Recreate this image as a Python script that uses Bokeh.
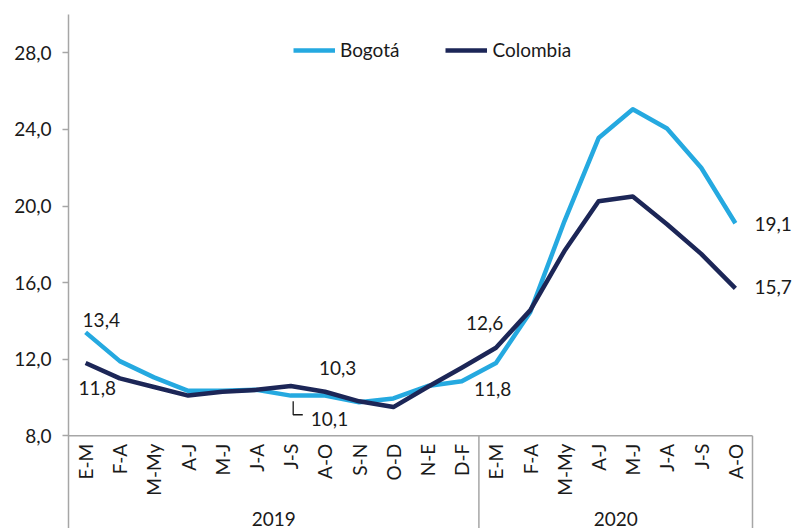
import math
from bokeh.plotting import figure
from bokeh.models import FixedTicker, Range1d, ColumnDataSource
from bokeh.core.properties import value
from bokeh.embed import file_html
from bokeh.resources import INLINE

# ---------------- data ----------------
years = ["2019", "2020"]
periods_2019 = ["E-M", "F-A", "M-My", "A-J", "M-J", "J-A", "J-S", "A-O", "S-N", "O-D", "N-E", "D-F"]
periods_2020 = ["E-M", "F-A", "M-My", "A-J", "M-J", "J-A", "J-S", "A-O"]
bogota = [13.4, 11.9, 11.05, 10.35, 10.35, 10.4, 10.1, 10.1, 9.75, 9.95, 10.6, 10.85,
          11.8, 14.45, 19.2, 23.55, 25.05, 24.05, 22.0, 19.1]
colombia = [11.8, 11.0, 10.55, 10.1, 10.3, 10.4, 10.6, 10.3, 9.8, 9.5, 10.55, 11.55,
            12.6, 14.55, 17.65, 20.25, 20.5, 19.05, 17.5, 15.7]
y_ticks = [8, 12, 16, 20, 24, 28]
y_tick_labels = ["8,0", "12,0", "16,0", "20,0", "24,0", "28,0"]

# ---------------- styles ----------------
FONT = "Lato"
FS = "19px"
C_BOG = "#25A9E0"
C_COL = "#1C2657"
C_AX = "#A6A6A6"
C_TXT = "#1a1a1a"

periods = periods_2019 + periods_2020
n = len(periods)
xs = [i + 0.5 for i in range(n)]
y_bottom = 3.16
y_top = 30.0

p = figure(width=793, height=528, output_backend="svg", toolbar_location=None,
           x_range=Range1d(0, 21.199), y_range=Range1d(y_bottom, y_top),
           x_axis_type=None, min_border_left=68, min_border_right=0,
           min_border_top=14, min_border_bottom=0)
p.outline_line_color = None
p.grid.visible = False
p.background_fill_color = "white"

ax = p.yaxis[0]
ax.ticker = FixedTicker(ticks=y_ticks)
ax.major_label_overrides = {t: l for t, l in zip(y_ticks, y_tick_labels)}
ax.axis_line_color = C_AX
ax.axis_line_width = 1.5
ax.major_tick_line_color = C_AX
ax.major_tick_line_width = 1.5
ax.minor_tick_line_color = None
ax.major_tick_out = 6
ax.major_tick_in = 0
ax.major_label_standoff = 11
ax.major_label_text_font = FONT
ax.major_label_text_font_size = FS
ax.major_label_text_color = C_TXT

# category table lines
n19 = len(periods_2019)
p.segment(x0=[0], y0=[y_ticks[0]], x1=[n], y1=[y_ticks[0]], line_color=C_AX, line_width=1.5)
p.segment(x0=[n19, n], y0=[y_ticks[0]] * 2, x1=[n19, n], y1=[y_bottom] * 2,
          line_color=C_AX, line_width=1.5)

# category labels
p.text(x=xs, y=[y_ticks[0]] * n, text=periods, angle=math.pi / 2,
       text_align="right", text_baseline="middle", y_offset=8,
       text_font=value(FONT), text_font_size=FS, text_color=C_TXT)
# year labels
p.text(x=[n19 / 2, n19 + (n - n19) / 2], y=[y_bottom] * 2, text=years,
       text_align="center", text_baseline="bottom", y_offset=-3,
       text_font=value(FONT), text_font_size=FS, text_color=C_TXT)

# series
p.line(xs, bogota, line_color=C_BOG, line_width=4.5, line_join="round", legend_label="Bogotá")
p.line(xs, colombia, line_color=C_COL, line_width=4.5, line_join="round", legend_label="Colombia")

# data labels
def fmt(v):
    return f"{v:.1f}".replace(".", ",")

labels = [  # (series, index, x_offset, y_offset)
    (bogota, 0, -3, -12),
    (colombia, 0, -7, 25),
    (colombia, 7, -6, -24),
    (bogota, 6, 20, 23),
    (colombia, 12, -30, -25),
    (bogota, 12, -22, 26),
    (bogota, 19, 19, 1),
    (colombia, 19, 19, -1),
]
src = ColumnDataSource(dict(
    x=[xs[i] for s, i, dx, dy in labels],
    y=[s[i] for s, i, dx, dy in labels],
    t=[fmt(s[i]) for s, i, dx, dy in labels],
    dx=[dx for s, i, dx, dy in labels],
    dy=[dy for s, i, dx, dy in labels],
))
p.text(x="x", y="y", text="t", x_offset="dx", y_offset="dy", source=src,
       text_align="left", text_baseline="middle",
       text_font=value(FONT), text_font_size=FS, text_color=C_TXT)

# leader line for Bogota J-S label
j = 6
p.line([xs[j] + 0.07, xs[j] + 0.07, xs[j] + 0.35],
       [bogota[j] - 0.3, bogota[j] - 1.0, bogota[j] - 1.0],
       line_color=C_TXT, line_width=1.3)

lg = p.legend[0]
lg.orientation = "horizontal"
lg.location = (225, 467)
lg.border_line_color = None
lg.background_fill_alpha = 0
lg.padding = 0
lg.margin = 0
lg.spacing = 46
lg.glyph_width = 42
lg.glyph_height = 20
lg.label_height = 20
lg.label_standoff = 5
lg.label_text_font = FONT
lg.label_text_font_size = FS
lg.label_text_color = C_TXT

open("out.html", "w").write(file_html(p, INLINE))
